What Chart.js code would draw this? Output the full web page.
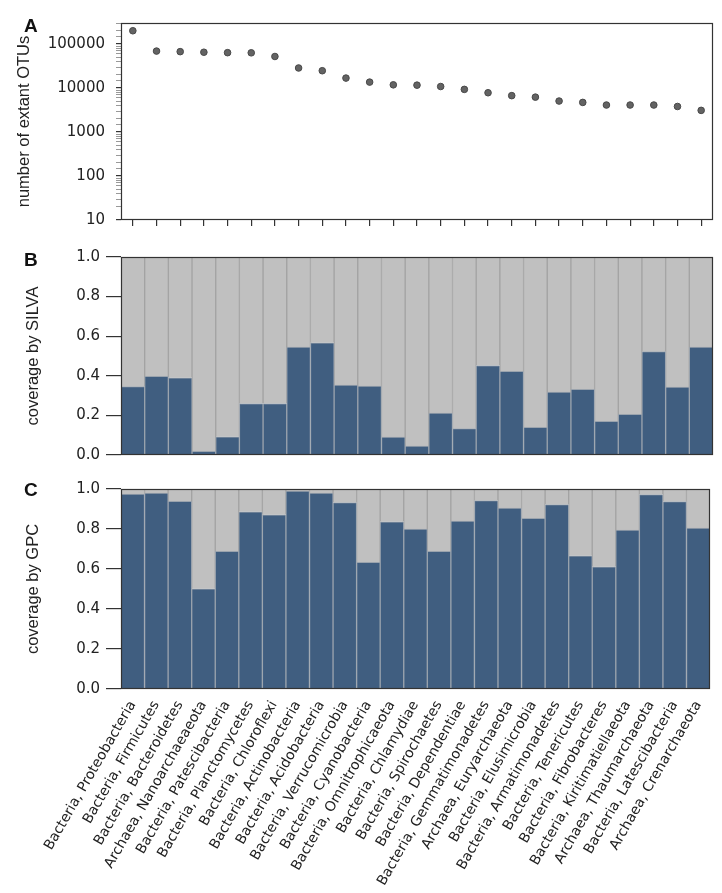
<!DOCTYPE html>
<html>
<head>
<meta charset="utf-8">
<script src="https://cdn.jsdelivr.net/npm/chart.js@4.4.1/dist/chart.umd.min.js"></script>
<style>
  body { margin: 0; background: #fff; }
  #wrap { position: relative; width: 722px; height: 893px; }
  canvas { position: absolute; left: 0; }
  .tag { position: absolute; left: 24px; font: bold 19px "Liberation Sans", Arial, sans-serif; line-height: 19px; color: #111; }
</style>
</head>
<body>
<div id="wrap">
  <canvas id="otuChart" width="722" height="240" style="top:0"></canvas>
  <canvas id="silvaChart" width="722" height="230" style="top:240px"></canvas>
  <canvas id="gpcChart" width="722" height="423" style="top:470px"></canvas>
  <div class="tag" style="top:16px">A</div>
  <div class="tag" style="top:250px">B</div>
  <div class="tag" style="top:480px">C</div>
</div>
<script>
// Phyla, in the order of the figure
const phyla = [
  'Bacteria, Proteobacteria', 'Bacteria, Firmicutes', 'Bacteria, Bacteroidetes',
  'Archaea, Nanoarchaeaeota', 'Bacteria, Patescibacteria', 'Bacteria, Planctomycetes',
  'Bacteria, Chloroflexi', 'Bacteria, Actinobacteria', 'Bacteria, Acidobacteria',
  'Bacteria, Verrucomicrobia', 'Bacteria, Cyanobacteria', 'Bacteria, Omnitrophicaeota',
  'Bacteria, Chlamydiae', 'Bacteria, Spirochaetes', 'Bacteria, Dependentiae',
  'Bacteria, Gemmatimonadetes', 'Archaea, Euryarchaeota', 'Bacteria, Elusimicrobia',
  'Bacteria, Armatimonadetes', 'Bacteria, Tenericutes', 'Bacteria, Fibrobacteres',
  'Bacteria, Kiritimatiellaeota', 'Archaea, Thaumarchaeota', 'Bacteria, Latescibacteria',
  'Archaea, Crenarchaeota'
];

// Panel A: number of extant OTUs (log scale)
const otuCounts = [200000, 69000, 67000, 65000, 63500, 63000, 52000, 28500, 24700, 16800,
  13600, 11800, 11600, 10800, 9300, 7800, 6700, 6200, 5050, 4700, 4100, 4100, 4100, 3800, 3100];
const otuTicks = [10, 100, 1000, 10000, 100000];

// Panels B and C: fraction covered
const silvaCoverage = [0.345, 0.397, 0.39, 0.018, 0.092, 0.26, 0.26, 0.545, 0.567, 0.353,
  0.348, 0.09, 0.045, 0.212, 0.133, 0.452, 0.422, 0.14, 0.318, 0.332, 0.17, 0.205, 0.522, 0.343, 0.545];
const gpcCoverage = [0.975, 0.98, 0.938, 0.501, 0.688, 0.886, 0.871, 0.99, 0.98, 0.932,
  0.633, 0.836, 0.80, 0.688, 0.84, 0.942, 0.905, 0.853, 0.922, 0.666, 0.611, 0.795, 0.972, 0.937, 0.805];
const coverageTicks = [0, 0.2, 0.4, 0.6, 0.8, 1.0];

const DARK = '#405e80';
const LIGHT = '#c0c0c0';
const AXIS = '#333';
const tickFont = { family: 'DejaVu Sans', size: 15 };
const titleFont = { family: 'Liberation Sans', size: 16.5 };
const AXIS_W = 121;

// box around each plot area
const framePlugin = {
  id: 'frame',
  afterDraw(chart) {
    const a = chart.chartArea;
    const ctx = chart.ctx;
    ctx.save();
    ctx.strokeStyle = AXIS;
    ctx.lineWidth = 1.2;
    ctx.strokeRect(Math.round(a.left) + 0.5, Math.round(a.top) + 0.5,
      Math.round(a.width) - 1, Math.round(a.height) - 1);
    ctx.restore();
  }
};

Chart.defaults.color = '#222';
Chart.defaults.animation = false;

new Chart(document.getElementById('otuChart'), {
  type: 'line',
  data: {
    labels: phyla,
    datasets: [{
      data: otuCounts,
      showLine: false,
      pointRadius: 3.3,
      pointBackgroundColor: '#636363',
      pointBorderColor: '#484848',
      pointBorderWidth: 1
    }]
  },
  options: {
    responsive: false,
    layout: { padding: { top: 23, right: 9, left: 0, bottom: 0 } },
    plugins: { legend: { display: false }, tooltip: { enabled: false } },
    scales: {
      x: {
        offset: true,
        grid: { drawOnChartArea: false, offset: false, tickLength: 6, color: AXIS, lineWidth: 1.2 },
        border: { display: false },
        ticks: { display: false, autoSkip: false },
        afterFit: s => { s.height = 18; }
      },
      y: {
        type: 'logarithmic',
        min: 10,
        max: 300000,
        grid: {
          drawOnChartArea: false,
          tickLength: 5,
          tickColor: c => (otuTicks.includes(c.tick.value) ? AXIS : '#999'),
          lineWidth: c => (otuTicks.includes(c.tick.value) ? 1.2 : 1)
        },
        border: { display: false },
        ticks: {
          autoSkip: false,
          padding: 11,
          font: tickFont,
          callback: v => (otuTicks.includes(v) ? String(v) : '')
        },
        title: { display: true, text: 'number of extant OTUs', font: titleFont, padding: { top: 15, bottom: 0 } },
        afterFit: s => { s.width = AXIS_W; }
      }
    }
  },
  plugins: [framePlugin]
});

function coverageChart(id, values, label, padTop, padBottom, showLabels) {
  return new Chart(document.getElementById(id), {
    type: 'bar',
    data: {
      labels: phyla,
      datasets: [
        { data: values, backgroundColor: DARK, borderColor: '#9aa3ad', borderWidth: 1 },
        { data: values.map(v => 1 - v), backgroundColor: LIGHT, borderColor: '#a3a3a3', borderWidth: 1 }
      ]
    },
    options: {
      responsive: false,
      layout: { padding: { top: padTop, right: 9, left: 0, bottom: padBottom } },
      datasets: { bar: { barPercentage: 1, categoryPercentage: 1 } },
      plugins: { legend: { display: false }, tooltip: { enabled: false } },
      scales: {
        x: {
          stacked: true,
          grid: { drawOnChartArea: false, drawTicks: false },
          border: { display: false },
          ticks: {
            display: showLabels,
            autoSkip: false,
            maxRotation: 60,
            minRotation: 60,
            padding: 9,
            font: { family: 'DejaVu Sans', size: 14 }
          },
          afterFit: s => { s.height = showLabels ? 204 : 0; }
        },
        y: {
          stacked: true,
          min: 0,
          max: 1,
          afterBuildTicks: s => { s.ticks = coverageTicks.map(v => ({ value: v })); },
          grid: { drawOnChartArea: false, tickLength: 15, color: AXIS, lineWidth: 1.2 },
          border: { display: false },
          ticks: { padding: 6, font: tickFont, callback: v => v.toFixed(1) },
          title: { display: true, text: label, font: titleFont, padding: { top: 24, bottom: 0 } },
          afterFit: s => { s.width = AXIS_W; }
        }
      }
    },
    plugins: [framePlugin]
  });
}

coverageChart('silvaChart', silvaCoverage, 'coverage by SILVA', 17, 13, false);
coverageChart('gpcChart', gpcCoverage, 'coverage by GPC', 19, 0, true);
</script>
</body>
</html>
